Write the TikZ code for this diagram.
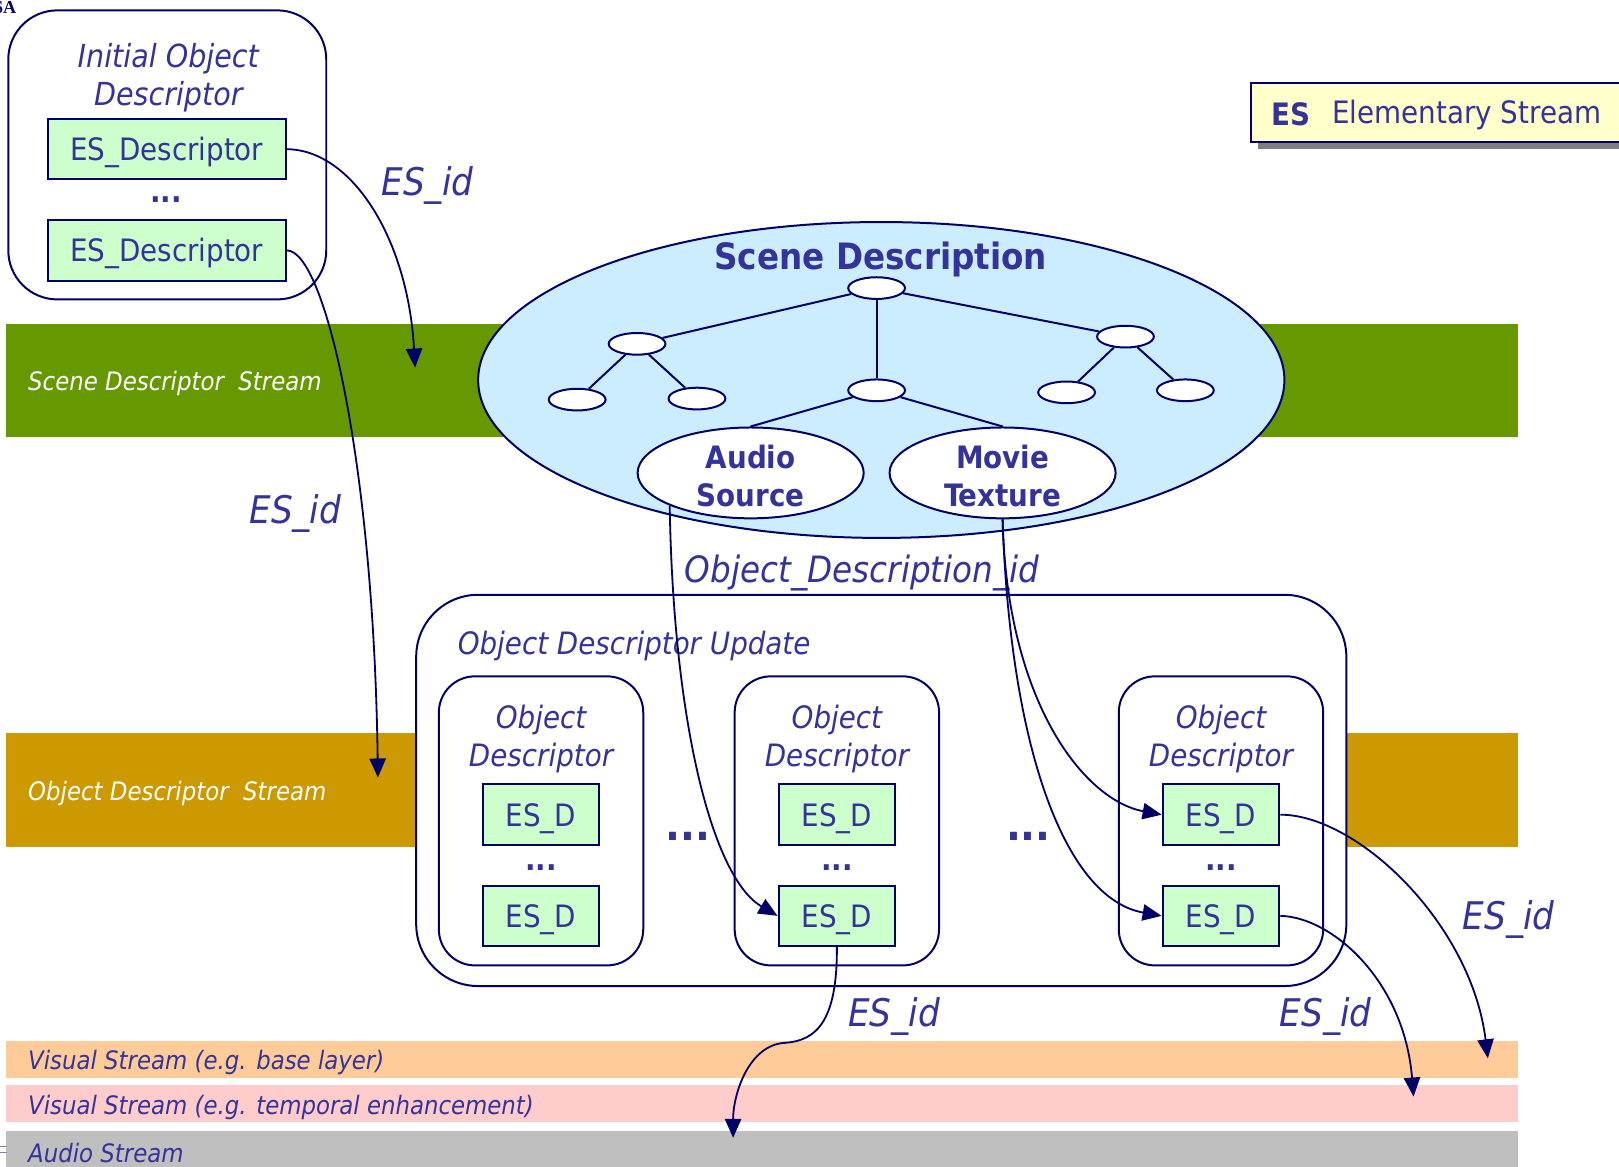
\documentclass[tikz,border=0pt]{standalone}
\usepackage{fontspec}
\setmainfont{DejaVu Sans Condensed}[
  BoldFont={DejaVu Sans Condensed Bold},
  ItalicFont={DejaVu Sans Condensed Oblique},
  BoldItalicFont={DejaVu Sans Condensed Bold Oblique}]
\newfontfamily\markfont{Liberation Serif}
\usetikzlibrary{arrows.meta,shapes.geometric}

\definecolor{txtblue}{HTML}{333399}
\definecolor{linenavy}{HTML}{000066}
\definecolor{sdsgreen}{HTML}{669900}
\definecolor{odsgold}{HTML}{CC9900}
\definecolor{scenefill}{HTML}{CCECFF}
\definecolor{esgreen}{HTML}{CCFFCC}
\definecolor{legendfill}{HTML}{FFFFCC}
\definecolor{baseorange}{HTML}{FFCC99}
\definecolor{temppink}{HTML}{FFCCCC}
\definecolor{audiogray}{HTML}{BFBFBF}

\begin{document}
\begin{tikzpicture}[x=0.02cm,y=-0.02cm,
  every node/.style={text=txtblue},
  border/.style={draw=linenavy, line width=1.1pt},
  esbox/.style={border, fill=esgreen, rectangle, inner sep=0pt,
    minimum height=1.17cm, font=\fontsize{17}{20}\selectfont,
    text depth=0pt, text height=12.6pt},
  esdesc/.style={esbox, minimum width=4.62cm},
  esd/.style={esbox, minimum width=2.26cm},
  roundbox/.style={border, fill=white, rectangle, inner sep=0pt},
  treenode/.style={ellipse, border, fill=white, inner sep=0pt,
    minimum width=1.1cm, minimum height=0.42cm},
  namednode/.style={ellipse, border, fill=white, inner sep=0pt,
    minimum width=4.38cm, minimum height=1.76cm, align=center,
    font=\bfseries\fontsize{17}{21}\selectfont},
  link/.style={draw=linenavy, line width=1.1pt},
  ref/.style={draw=linenavy, line width=1pt, -{Triangle[length=10.5pt,width=9pt]}},
  idlabel/.style={font=\itshape\fontsize{21}{24}\selectfont},
  boxtitle/.style={align=center, font=\itshape\fontsize{17}{21}\selectfont},
  bandlabel/.style={anchor=west, inner sep=0pt, font=\itshape\fontsize{14}{17}\selectfont},
  dots/.style={font=\bfseries\fontsize{17}{20}\selectfont},
  bigdots/.style={font=\bfseries\fontsize{24}{28}\selectfont}]

\useasboundingbox (0,0) rectangle (1568,1130);

% logo fragment in the corner
\node[anchor=north west, inner sep=0pt, text=linenavy,
  font=\markfont\bfseries\fontsize{10}{10}\selectfont] (logo) at (-7,1) {SA};

% stream bands
\fill[sdsgreen] (6,314) rectangle (1470,423);
\fill[odsgold] (6,710) rectangle (1470,820);
\fill[baseorange] (6,1008) rectangle (1470,1044);
\fill[temppink] (6,1051) rectangle (1470,1087);
\fill[audiogray] (6,1095) rectangle (1470,1132);
\draw[linenavy!50, line width=0.5pt] (0,1110) -- (7,1110) (0,1116) -- (7,1116);

\node[bandlabel, text=white] (sdslabel) at (27,371) {Scene Descriptor\ \ Stream};
\node[bandlabel, text=white] (odslabel) at (27,768) {Object Descriptor\ \ Stream};
\node[bandlabel] (baselabel) at (27,1029) {Visual Stream (e.g. base layer)};
\node[bandlabel] (templabel) at (27,1073) {Visual Stream (e.g. temporal enhancement)};
\node[bandlabel] (audiolabel) at (27,1117) {Audio Stream};

% legend
\fill[gray] (1218,86) rectangle (1600,144);
\draw[border, fill=legendfill] (1212,80) rectangle (1594,138);
\node[anchor=west, inner sep=0pt, font=\bfseries\fontsize{17}{20}\selectfont] (legkey) at (1231,111) {ES};
\node[anchor=west, inner sep=0pt, font=\fontsize{17}{20}\selectfont] (legtext) at (1290,111) {Elementary Stream};

% initial object descriptor
\node[roundbox, rounded corners=0.95cm, minimum width=6.16cm, minimum height=5.6cm] (iod) at (162,150) {};
\node[boxtitle, font=\itshape\fontsize{17.5}{21}\selectfont] (iodtitle) at (163,75) {Initial Object\\Descriptor};
\node[esdesc] (esd1) at (161.5,144.5) {ES\_Descriptor};
\node[dots] (ioddots) at (161,193) {...};
\node[esdesc] (esd2) at (161.5,242.5) {ES\_Descriptor};

% scene description
\node[ellipse, border, fill=scenefill, minimum width=15.62cm, minimum height=6.12cm, inner sep=0pt] (scene) at (853.5,368) {};
\node[font=\bfseries\fontsize{20}{24}\selectfont] (scenetitle) at (853,251) {Scene Description};
\node[treenode] (root) at (849,279) {};
\node[treenode] (lm) at (617,333) {};
\node[treenode] (ll) at (559,387) {};
\node[treenode] (lr) at (675,386) {};
\node[treenode] (cm) at (849,378) {};
\node[treenode] (rm) at (1090,326) {};
\node[treenode] (rl) at (1033,380) {};
\node[treenode] (rr) at (1148,378) {};
\node[namednode] (audio) at (727,458) {};
\node[namednode] (movie) at (971,458) {};
\node[align=center, font=\bfseries\fontsize{17}{21}\selectfont] (audiotext) at (727,461) {Audio\\Source};
\node[align=center, font=\bfseries\fontsize{17}{21}\selectfont] (movietext) at (971,461) {Movie\\Texture};
\draw[link] (root) -- (lm);
\draw[link] (root) -- (cm);
\draw[link] (root) -- (rm);
\draw[link] (lm) -- (ll);
\draw[link] (lm) -- (lr);
\draw[link] (rm) -- (rl);
\draw[link] (rm) -- (rr);
\draw[link] (cm) -- (audio.north);
\draw[link] (cm) -- (movie.north);

% object descriptor update
\node[roundbox, rounded corners=1.2cm, minimum width=18.02cm, minimum height=7.58cm] (odu) at (853.5,765.5) {};
\node[anchor=west, inner sep=0pt, font=\itshape\fontsize{17}{20}\selectfont] (odutitle) at (443,626) {Object Descriptor Update};
\foreach \n/\cx in {od1/524, od2/810.5, od3/1182.5}{
  \node[roundbox, rounded corners=0.7cm, minimum width=3.96cm, minimum height=5.6cm] (\n) at (\cx,795) {};
  \node[boxtitle] (\n title) at (\cx,716) {Object\\Descriptor};
  \node[esd] (\n a) at (\cx,789) {ES\_D};
  \node[dots] (\n dots) at (\cx,840) {...};
  \node[esd] (\n b) at (\cx,887) {ES\_D};
}
\node[bigdots] (gapdots1) at (666,810) {...};
\node[bigdots] (gapdots2) at (996,810) {...};

% labels
\node[idlabel] (idA) at (414,180) {ES\_id};
\node[idlabel] (idB) at (286,497) {ES\_id};
\node[idlabel] (idC) at (866,984) {ES\_id};
\node[idlabel] (idD) at (1284,984) {ES\_id};
\node[idlabel] (idE) at (1461,891) {ES\_id};
\node[font=\itshape\fontsize{20}{24}\selectfont] (odid) at (835,555) {Object\_Description\_id};

% references
\coordinate (sdstip) at (402,356);
\coordinate (odstip) at (366,753);
\coordinate (audiotip) at (710,1102);
\coordinate (sbend) at (760,1010);
\coordinate (basetip) at (1441,1025);
\coordinate (temptip) at (1369,1062);

\draw[ref] (esd1.east) .. controls (340,145) and (395,230) .. (sdstip);
\draw[ref] (esd2.east) .. controls (315,243) and (362,450) .. (odstip);
\draw[ref] (audio.202) .. controls (652,700) and (690,850) .. (od2b.west);
\draw[ref] (movie.south) .. controls (975,680) and (1050,775) .. (od3a.west);
\draw[ref] (movie.south) .. controls (978,720) and (1030,870) .. (od3b.west);
\draw[ref] (od2b.south) .. controls (811,990) and (790,1008) .. (sbend)
  .. controls (725,1012) and (710,1060) .. (audiotip);
\draw[ref] (od3a.east) .. controls (1315,789) and (1425,895) .. (basetip);
\draw[ref] (od3b.east) .. controls (1290,888) and (1360,950) .. (temptip);
\end{tikzpicture}
\end{document}
